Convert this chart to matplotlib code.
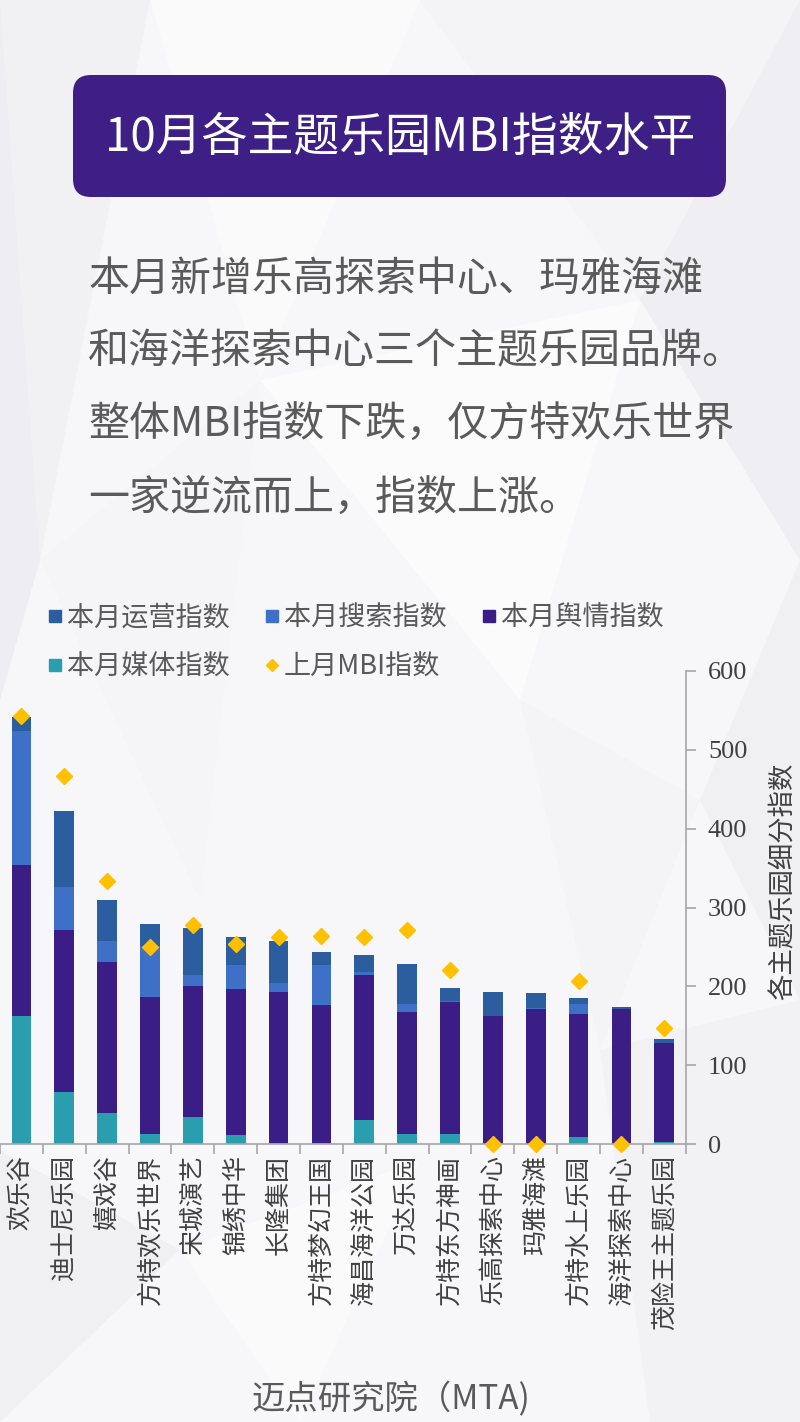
import matplotlib
matplotlib.use("Agg")
import matplotlib.pyplot as plt
from matplotlib.patches import FancyBboxPatch, Polygon
from matplotlib.lines import Line2D
import numpy as np

plt.rcParams['font.family'] = ['Noto Sans CJK SC', 'DejaVu Sans']

# ---------------- data ----------------
categories = ["欢乐谷", "迪士尼乐园", "嬉戏谷", "方特欢乐世界", "宋城演艺", "锦绣中华",
              "长隆集团", "方特梦幻王国", "海昌海洋公园", "万达乐园", "方特东方神画",
              "乐高探索中心", "玛雅海滩", "方特水上乐园", "海洋探索中心", "茂险王主题乐园"]
media = [162, 66, 40, 13, 34, 12, 2, 2, 31, 13, 13, 0, 0, 9, 0, 3]
sentiment = [192, 206, 191, 173, 167, 185, 191, 174, 183, 155, 167, 163, 171, 156, 172, 125]
search = [169, 54, 26, 65, 14, 30, 11, 51, 4, 10, 2, 0, 2, 13, 0, 0]
operation = [18, 96, 52, 28, 59, 35, 53, 17, 22, 50, 16, 30, 19, 7, 2, 6]
last_mbi = [543, 466, 334, 250, 278, 254, 262, 264, 262, 271, 221, 0, 0, 207, 0, 147]

yticks = [0, 100, 200, 300, 400, 500, 600]

series_names = ["本月运营指数", "本月搜索指数", "本月舆情指数", "本月媒体指数", "上月MBI指数"]
title = "10月各主题乐园MBI指数水平"
body_lines = ["本月新增乐高探索中心、玛雅海滩",
              "和海洋探索中心三个主题乐园品牌。",
              "整体MBI指数下跌，仅方特欢乐世界",
              "一家逆流而上，指数上涨。"]
ylabel = "各主题乐园细分指数"
source = "迈点研究院（MTA)"

c_ops = "#2b5d9f"
c_search = "#3e70c8"
c_sent = "#3b1d86"
c_media = "#2a9daf"
c_diam = "#ffc000"

W, H = 800, 1422
fig = plt.figure(figsize=(W / 100, H / 100), dpi=100)
fig.patch.set_facecolor("#f7f7f9")

# background low-poly decoration (very subtle)
bg = fig.add_axes([0, 0, 1, 1], zorder=-10)
bg.set_xlim(0, W)
bg.set_ylim(H, 0)
bg.axis("off")
polys = [
    ([(0, 0), (150, 0), (40, 560)], "#f1f1f4"),
    ([(0, 0), (40, 560), (0, 700)], "#eeeef2"),
    ([(150, 0), (420, 0), (260, 380)], "#fafafb"),
    ([(420, 0), (800, 0), (640, 300)], "#f4f4f6"),
    ([(640, 300), (800, 0), (800, 560)], "#efeff3"),
    ([(260, 380), (640, 300), (520, 700)], "#fbfbfc"),
    ([(800, 560), (700, 800), (800, 1000)], "#f0f0f3"),
    ([(520, 700), (700, 800), (600, 1050)], "#f4f4f6"),
    ([(0, 1150), (180, 1250), (0, 1422)], "#f0f0f3"),
    ([(180, 1250), (420, 1160), (300, 1422)], "#fafafb"),
    ([(600, 1050), (800, 1000), (800, 1422), (650, 1422)], "#f2f2f5"),
    ([(40, 560), (260, 380), (200, 900)], "#f5f5f7"),
]
for pts, col in polys:
    bg.add_patch(Polygon(pts, closed=True, facecolor=col, edgecolor="none"))

# title box
box = FancyBboxPatch((73, 75), 653, 122, boxstyle="round,pad=0,rounding_size=18",
                     facecolor="#3d1f85", edgecolor="none")
bg.add_patch(box)
bg.text(400, 138, title, color="white", fontsize=33, ha="center", va="center")

# body text
for i, line in enumerate(body_lines):
    bg.text(88, 279 + i * 73, line, color="#5a5a5a", fontsize=29.5, ha="left",
            va="center", fontweight="light")

bg.text(391, 1400, source, color="#5a5a5a", fontsize=24, ha="center", va="center")

# ---------------- chart ----------------
left = 0.0
right = 685.7 / W
bottom = 1 - 1144.3 / H
top = 1 - 670.7 / H
ax = fig.add_axes([left, bottom, right - left, top - bottom])
ax.set_facecolor("none")

x = np.arange(len(categories))
bw = 0.46
media_a = np.array(media)
sent_a = np.array(sentiment)
search_a = np.array(search)
ops_a = np.array(operation)

ax.bar(x, media_a, bw, color=c_media, zorder=2)
ax.bar(x, sent_a, bw, bottom=media_a, color=c_sent, zorder=2)
ax.bar(x, search_a, bw, bottom=media_a + sent_a, color=c_search, zorder=2)
ax.bar(x, ops_a, bw, bottom=media_a + sent_a + search_a, color=c_ops, zorder=2)
ax.plot(x, last_mbi, linestyle="none", marker="D", markersize=8.5, color=c_diam,
        markeredgecolor=c_diam, zorder=4, clip_on=False)

ax.set_xlim(-0.5, len(categories) - 0.5)
ax.set_ylim(0, 600)

for s in ["top", "left"]:
    ax.spines[s].set_visible(False)
ax.spines["bottom"].set_color("#a6a6a6")
ax.spines["right"].set_color("#a6a6a6")
ax.spines["bottom"].set_linewidth(1.2)
ax.spines["right"].set_linewidth(1.2)

ax.yaxis.tick_right()
ax.yaxis.set_label_position("right")
ax.set_yticks(yticks)
ax.set_yticklabels([str(v) for v in yticks], family=["Liberation Serif"], fontsize=19,
                   color="#404040")
ax.tick_params(axis="y", direction="out", length=7, width=1.2, color="#a6a6a6", pad=9)

ax.set_xticks(x)
ax.set_xticklabels(categories, rotation=90, fontsize=18, color="#404040", va="top")
ax.tick_params(axis="x", length=0, pad=8)
ax.set_xticks(np.arange(len(categories) + 1) - 0.5, minor=True)
ax.tick_params(axis="x", which="minor", direction="out", length=7, width=1.2, color="#a6a6a6")

ax.set_ylabel(ylabel, fontsize=19, color="#404040", rotation=90)
ax.yaxis.set_label_coords(1.123, 0.555)

# legend
handles = [
    Line2D([], [], linestyle="none", marker="s", markersize=8, color=c_ops),
    Line2D([], [], linestyle="none", marker="s", markersize=8, color=c_media),
    Line2D([], [], linestyle="none", marker="s", markersize=8, color=c_search),
    Line2D([], [], linestyle="none", marker="D", markersize=6.5, color=c_diam),
    Line2D([], [], linestyle="none", marker="s", markersize=8, color=c_sent),
]
labels = [series_names[0], series_names[3], series_names[1], series_names[4], series_names[2]]
leg = fig.legend(handles, labels, ncol=3, loc="upper left",
                 bbox_to_anchor=(37 / W, 1 - 594 / H), frameon=False,
                 fontsize=19.5, handlelength=0.55, handletextpad=0.15,
                 columnspacing=1.3, labelspacing=0.8, borderaxespad=0)
for t in leg.get_texts():
    t.set_color("#595959")

fig.savefig("out.png", dpi=100, facecolor=fig.get_facecolor())
